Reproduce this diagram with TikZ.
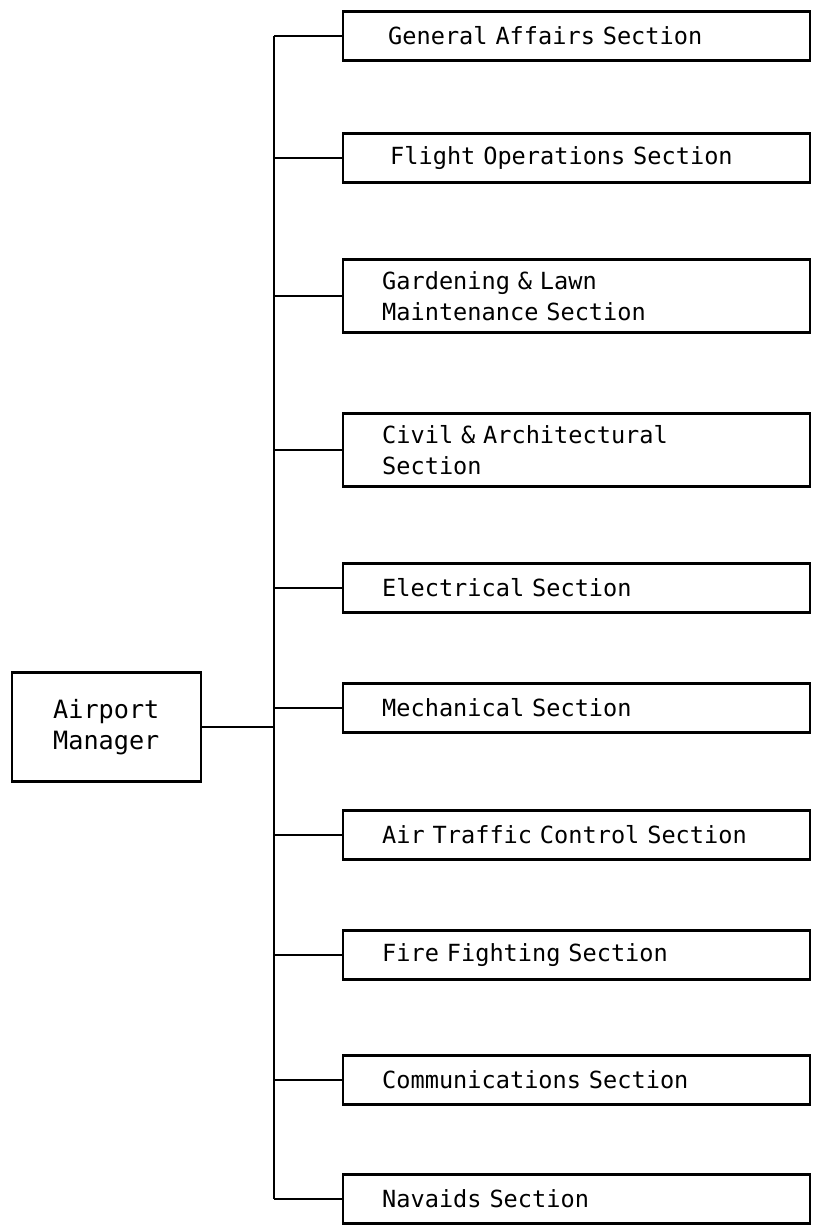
\documentclass[tikz,border=0pt]{standalone}
\usepackage{fontspec}
\newfontfamily\typefont{DejaVu Sans Mono}
\usetikzlibrary{positioning}
\newcommand{\sectfont}{\typefont\fontsize{11.8}{15.5}\selectfont\fontdimen2\font=11.3pt\relax}
\newcommand{\mgrfont}{\typefont\fontsize{12.6}{15.5}\selectfont}
\newcommand{\indsec}{\hspace*{9.75pt}}

\begin{document}
\begin{tikzpicture}[
  x=0.5pt, y=-0.5pt,
  font=\sectfont,
  line width=1.2pt,
  sect/.style={draw, anchor=west, text width=214pt, inner xsep=9.75pt,
    inner ysep=2pt, align=left, minimum height=24.5pt},
  sect2/.style={sect, minimum height=36.5pt},
  mgrbox/.style={draw, anchor=east, align=center, font=\mgrfont,
    minimum width=94.5pt, minimum height=54.5pt}
]
\useasboundingbox (0,0) rectangle (814,1226);

% manager and bus
\node[mgrbox] (mgr) at (202,727) {Airport\\Manager};
\coordinate (bus) at (274,727);

% sections
\node[sect]  (ga)    at (342,36)   {\indsec\hspace*{3pt}General Affairs Section};
\node[sect]  (fo)    at (342,158)  {\indsec\hspace*{4pt}Flight Operations Section};
\node[sect2] (gard)  at (342,296)  {\indsec Gardening \& Lawn\\\indsec Maintenance Section};
\node[sect2] (civil) at (342,450)  {\indsec Civil \& Architectural\\\indsec Section};
\node[sect]  (elec)  at (342,588)  {\indsec Electrical Section};
\node[sect]  (mech)  at (342,708)  {\indsec Mechanical Section};
\node[sect]  (atc)   at (342,835)  {\indsec Air Traffic Control Section};
\node[sect]  (fire)  at (342,955)  {\indsec Fire Fighting Section};
\node[sect]  (comm)  at (342,1080) {\indsec Communications Section};
\node[sect]  (nav)   at (342,1199) {\indsec Navaids Section};

% connectors
\draw (mgr.east) -- (bus);
\draw (ga.west -| bus) -- (nav.west -| bus);
\foreach \s in {ga,fo,gard,civil,elec,mech,atc,fire,comm,nav}
  \draw (\s.west) -- (\s.west -| bus);
\end{tikzpicture}
\end{document}
